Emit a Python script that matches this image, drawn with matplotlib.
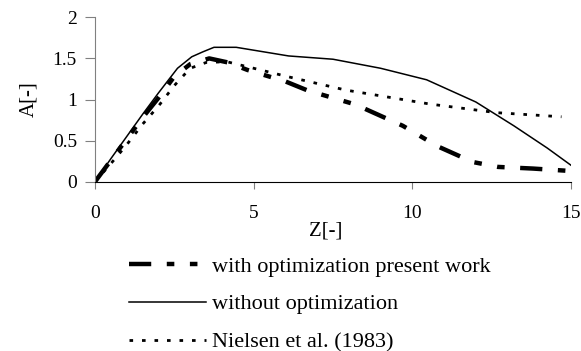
import numpy as np
import matplotlib
matplotlib.use('Agg')
import matplotlib.pyplot as plt

plt.rcParams['font.family'] = ['Liberation Serif', 'DejaVu Serif']

# dane
z_opt = [0.0, 0.5, 1.0, 1.5, 2.0, 2.5, 3.0, 3.6, 4.2, 4.8, 6.0, 6.7, 8.2, 9.7, 10.8, 11.9, 12.7, 13.8, 15.0]
a_opt = [0.0, 0.26, 0.52, 0.78, 1.02, 1.28, 1.43, 1.50, 1.45, 1.36, 1.22, 1.11, 0.94, 0.68, 0.43, 0.24, 0.18, 0.16, 0.13]

z_bez = [0.0, 0.5, 1.0, 1.5, 2.0, 2.6, 3.05, 3.4, 3.75, 4.45, 6.1, 7.5, 9.0, 10.45, 12.0, 13.2, 14.25, 15.0]
a_bez = [0.0, 0.28, 0.55, 0.82, 1.08, 1.38, 1.52, 1.58, 1.635, 1.635, 1.53, 1.49, 1.38, 1.24, 0.97, 0.68, 0.41, 0.20]

z_niel = [0.0, 0.5, 1.0, 1.5, 2.0, 2.5, 3.0, 3.5, 4.15, 5.0, 6.05, 7.9, 10.55, 12.65, 14.7]
a_niel = [0.0, 0.22, 0.45, 0.70, 0.92, 1.17, 1.38, 1.45, 1.46, 1.38, 1.28, 1.115, 0.945, 0.84, 0.79]

fig = plt.figure(figsize=(5.81, 3.51), dpi=100)
ax = fig.add_axes([0.1635, 0.4823, 0.8193, 0.4684])

l1, = ax.plot(z_opt, a_opt, color='black', lw=3.2, dashes=[5, 3.5, 1.7, 3.5, 1.7, 3.5],
              label='with optimization present work')
l2, = ax.plot(z_bez, a_bez, color='black', lw=1.1, label='without optimization')
l3, = ax.plot(z_niel, a_niel, color='black', lw=2.0, dashes=[1.3, 3.2],
              label='Nielsen et al. (1983)')

ax.set_xlim(0, 15)
ax.set_ylim(0, 2)
ax.set_xticks([0, 5, 10, 15])
ax.set_yticks([0, 0.5, 1, 1.5, 2])
ax.set_yticklabels(['0', '0.5', '1', '1.5', '2'])
ax.spines['top'].set_visible(False)
ax.spines['right'].set_visible(False)
ax.spines['left'].set_color('#808080')
ax.spines['bottom'].set_color('black')
ax.tick_params(axis='both', colors='#808080', labelcolor='black', labelsize=14, direction='out')
ax.tick_params(axis='x', length=5, pad=12)
ax.tick_params(axis='y', length=7, pad=6)

ax.set_xlabel('Z[-]', fontsize=15)
ax.xaxis.set_label_coords(0.485, -0.245)
ax.set_ylabel('A[-]', fontsize=15)
ax.yaxis.set_label_coords(-0.12, 0.5)

fig.legend(handles=[l1, l2, l3], loc='upper left', bbox_to_anchor=(0.207, 0.296),
           frameon=False, fontsize=16, handlelength=3.45, handletextpad=0.3,
           labelspacing=0.78, borderaxespad=0)

fig.savefig('out.png', dpi=100)
